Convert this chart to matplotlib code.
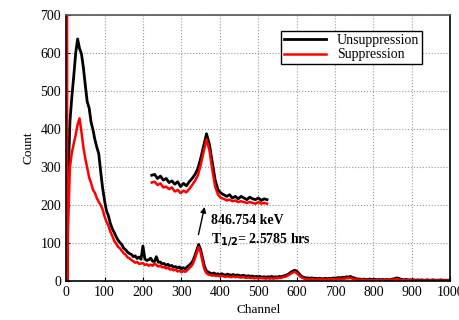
import numpy as np
import matplotlib
matplotlib.use('Agg')
import matplotlib.pyplot as plt

plt.rcParams['font.family'] = ['Liberation Serif', 'DejaVu Serif']

# channel axis: a few single channels at the start, then every 5 channels
channel = np.concatenate([[0, 1, 2, 3], np.arange(5, 1001, 5)])

unsupp = np.array([
    0, 0, 0, 0,
    260, 420, 485, 540, 600, 637, 612, 598, 562, 515, 472, 455, 418, 398, 372, 352, 335, 288, 245, 212,
    185, 172, 152, 138, 128, 117, 108, 101, 96, 86, 82, 76, 72, 70, 64, 66, 59, 63, 57, 92,
    58, 54, 56, 60, 52, 51, 64, 49, 50, 45, 46, 41, 44, 39, 41, 36, 38, 34, 37, 31,
    35, 32, 37, 41, 46, 53, 66, 81, 96, 83, 61, 39, 27, 23, 21, 19, 21, 17, 19, 16,
    19, 17, 15, 18, 16, 15, 17, 14, 16, 15, 13, 15, 14, 12, 14, 12, 13, 11, 12, 11,
    12, 10, 11, 10, 11, 10, 12, 10, 11, 10, 12, 11, 13, 14, 16, 19, 23, 26, 28, 26,
    21, 15, 11, 9, 8, 8, 7, 8, 7, 7, 6, 7, 6, 6, 7, 6, 7, 6, 8, 7,
    8, 9, 8, 10, 9, 11, 10, 12, 9, 8, 6, 5, 5, 4, 5, 4, 4, 5, 4, 4,
    4, 3, 4, 3, 4, 3, 4, 3, 4, 5, 6, 8, 7, 5, 4, 3, 4, 3, 3, 3,
    3, 2, 3, 2, 3, 2, 2, 3, 2, 2, 3, 2, 2, 2, 3, 2, 2, 2, 2, 2,
])

supp = np.array([
    0, 0, 1500, 0,
    140, 300, 338, 362, 385, 412, 428, 392, 352, 322, 298, 272, 258, 240, 232, 218, 208, 200, 188, 170,
    156, 146, 130, 119, 106, 99, 90, 86, 79, 73, 69, 62, 60, 55, 52, 48, 50, 45, 46, 47,
    42, 44, 40, 43, 40, 46, 42, 38, 40, 36, 37, 33, 35, 30, 31, 28, 30, 25, 27, 23,
    26, 24, 28, 33, 38, 45, 58, 74, 89, 76, 52, 31, 21, 17, 16, 14, 15, 13, 14, 12,
    13, 12, 11, 12, 11, 10, 12, 10, 11, 10, 9, 10, 9, 8, 9, 8, 8, 7, 8, 7,
    8, 7, 7, 6, 7, 6, 7, 6, 7, 7, 8, 8, 10, 11, 13, 16, 19, 22, 24, 21,
    16, 11, 8, 6, 5, 5, 4, 5, 4, 4, 4, 5, 4, 4, 4, 4, 5, 4, 5, 4,
    5, 6, 5, 6, 6, 7, 7, 8, 6, 5, 4, 3, 3, 3, 3, 2, 3, 2, 2, 2,
    2, 2, 2, 2, 2, 2, 2, 2, 3, 3, 4, 5, 4, 3, 2, 2, 2, 2, 2, 1,
    1, 1, 1, 1, 1, 1, 1, 1, 1, 1, 1, 1, 1, 1, 1, 1, 1, 1, 1, 1,
])

# magnified copy of the 846.754 keV region
zoom_lo, zoom_hi = 250, 450
zoom_x0, zoom_xscale = 223, 1.5
zoom_y0, zoom_yscale = 182, 2.14

fig = plt.figure(figsize=(4.59, 3.2), dpi=100)
ax = fig.add_axes([0.144, 0.122, 0.837, 0.831])

ax.plot(channel, unsupp, color='black', lw=2.0, label='Unsuppression')
ax.plot(channel, supp, color='red', lw=1.8, label='Suppression')

m = (channel >= zoom_lo) & (channel <= zoom_hi)
zx = zoom_x0 + zoom_xscale * (channel[m] - zoom_lo)
ax.plot(zx, zoom_y0 + zoom_yscale * unsupp[m], color='black', lw=2.0)
ax.plot(zx, zoom_y0 + zoom_yscale * supp[m], color='red', lw=1.8)

ax.annotate('', xy=(362, 202), xytext=(343, 115),
            arrowprops=dict(arrowstyle='-|>', color='black', lw=1.0, mutation_scale=8))
ax.text(377, 158, '846.754 keV', fontsize=10, fontweight='bold', va='center')
ax.text(377, 108, r'T$_{\mathbf{1/2}}$= 2.5785 hrs', fontsize=10, fontweight='bold', va='center')

ax.set_xlim(0, 1000)
ax.set_ylim(0, 700)
ax.set_xticks(np.arange(0, 1001, 100))
ax.set_yticks(np.arange(0, 701, 100))
ax.tick_params(direction='in', labelsize=10, length=3)
ax.grid(True, linestyle=':', color='#999999', lw=0.8)
ax.set_axisbelow(True)
for s in ax.spines.values():
    s.set_linewidth(1.2)
ax.spines['top'].set_color('#555555')

ax.set_xlabel('Channel', fontsize=9.5)
ax.set_ylabel('Count', fontsize=9.5)

leg = ax.legend(loc='upper right', bbox_to_anchor=(0.945, 0.965), fontsize=10,
                fancybox=False, framealpha=1, edgecolor='black', handlelength=3.0,
                borderpad=0.2, labelspacing=0.1)
leg.get_frame().set_linewidth(1.0)

fig.savefig('out.png', dpi=100)
